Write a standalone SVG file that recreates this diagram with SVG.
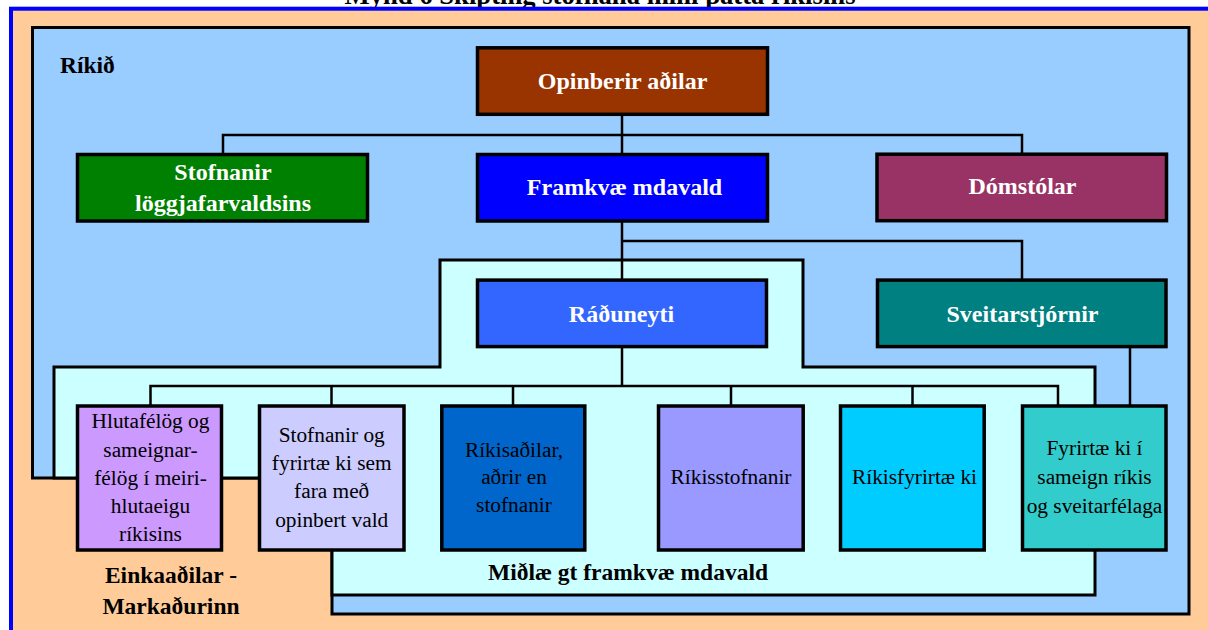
<svg xmlns="http://www.w3.org/2000/svg" width="1208" height="630" viewBox="0 0 1208 630">
  <style>
    .region { stroke: #000; stroke-width: 3; stroke-linejoin: miter; }
    .box { stroke: #000; stroke-width: 3.5; }
    .wire { fill: none; stroke: #000; stroke-width: 2.5; }
    .hd { font-family: "Liberation Serif", "Times New Roman", serif; font-weight: bold; font-size: 24px; text-anchor: middle; fill: #fff; }
    .lbl { font-family: "Liberation Serif", "Times New Roman", serif; font-size: 21.33px; text-anchor: middle; fill: #000; }
    .zone { font-family: "Liberation Serif", "Times New Roman", serif; font-weight: bold; font-size: 23.5px; fill: #000; }
  </style>

  <rect width="1208" height="630" fill="#fff"/>

  <!-- caption, clipped by the top edge -->
  <text x="600" y="3.5" font-family="Liberation Serif, serif" font-weight="bold" font-size="26.67" text-anchor="middle" fill="#000">Mynd 6 Skipting stofnana milli þátta ríkisins</text>

  <!-- outer frame: private sector background -->
  <rect x="11" y="8.7" width="1260" height="700" fill="#FFCC99" stroke="#0000FF" stroke-width="4"/>

  <!-- state area -->
  <g id="rikid">
    <polygon class="region" fill="#99CCFF" points="32.5,27.5 1189,27.5 1189,614 332,614 332,478 32.5,478"/>
    <text class="zone" x="60" y="73" font-size="23">Ríkið</text>
  </g>

  <!-- central executive area -->
  <g id="midlaegt">
    <polygon class="region" fill="#CCFFFF" points="440,260 803,260 803,367 1095,367 1095,595 332,595 332,478 54,478 54,367 440,367"/>
    <text class="zone" x="628" y="579.5" text-anchor="middle" font-size="24">Miðlæ gt framkvæ mdavald</text>
  </g>

  <g id="einkaadilar">
    <text class="zone" x="171" y="583" text-anchor="middle">Einkaaðilar -</text>
    <text class="zone" x="171" y="613.5" text-anchor="middle">Markaðurinn</text>
  </g>

  <!-- connectors -->
  <g id="connectors">
    <path class="wire" d="M223,154 V135 H1022 V154"/>
    <path class="wire" d="M622,116 V154"/>
    <path class="wire" d="M622,222 V280"/>
    <path class="wire" d="M622,241 H1022 V280"/>
    <path class="wire" d="M622,348 V386"/>
    <path class="wire" d="M150.5,405 V386 H1058 V405"/>
    <path class="wire" d="M331.5,386 V405"/>
    <path class="wire" d="M513,386 V405"/>
    <path class="wire" d="M731,386 V405"/>
    <path class="wire" d="M912.5,386 V405"/>
    <path class="wire" d="M1130,348 V405"/>
  </g>

  <!-- top level -->
  <g id="opinberir">
    <rect class="box" x="477.5" y="47.8" width="290" height="66.5" fill="#993300"/>
    <text class="hd" x="622.5" y="89">Opinberir aðilar</text>
  </g>

  <g id="loggjafarvald">
    <rect class="box" x="77.5" y="154.5" width="290" height="66.5" fill="#008000"/>
    <text class="hd" x="223" y="180">Stofnanir</text>
    <text class="hd" x="223" y="210.5">löggjafarvaldsins</text>
  </g>

  <g id="framkvaemdavald">
    <rect class="box" x="477.5" y="154.5" width="290" height="66.5" fill="#0000FF"/>
    <text class="hd" x="624.5" y="195">Framkvæ mdavald</text>
  </g>

  <g id="domstolar">
    <rect class="box" x="877" y="154.2" width="289.5" height="66.5" fill="#993366"/>
    <text class="hd" x="1022.5" y="194.3">Dómstólar</text>
  </g>

  <g id="raduneyti">
    <rect class="box" x="477.5" y="280.1" width="289" height="66.5" fill="#3366FF"/>
    <text class="hd" x="621.5" y="321.7">Ráðuneyti</text>
  </g>

  <g id="sveitarstjornir">
    <rect class="box" x="877.5" y="280.1" width="288.5" height="66.5" fill="#008080"/>
    <text class="hd" x="1022.5" y="321.7">Sveitarstjórnir</text>
  </g>

  <!-- bottom row -->
  <g id="hlutafelog">
    <rect class="box" x="77.5" y="406" width="144" height="144" fill="#CC99FF"/>
    <text class="lbl" x="150.5" y="428.3">Hlutafélög og</text>
    <text class="lbl" x="150.5" y="456.7">sameignar-</text>
    <text class="lbl" x="150.5" y="485">félög í meiri-</text>
    <text class="lbl" x="150.5" y="513.3">hlutaeigu</text>
    <text class="lbl" x="150.5" y="540.5">ríkisins</text>
  </g>

  <g id="opinbert-vald">
    <rect class="box" x="259.5" y="406" width="144.5" height="144" fill="#CCCCFF"/>
    <text class="lbl" x="331.7" y="441.7">Stofnanir og</text>
    <text class="lbl" x="331.7" y="470">fyrirtæ ki sem</text>
    <text class="lbl" x="331.7" y="498.3">fara með</text>
    <text class="lbl" x="331.7" y="526.7">opinbert vald</text>
  </g>

  <g id="rikisadilar">
    <rect class="box" x="441.8" y="406" width="143" height="144" fill="#0066CC"/>
    <text class="lbl" x="514" y="456.5">Ríkisaðilar,</text>
    <text class="lbl" x="514" y="484">aðrir en</text>
    <text class="lbl" x="514" y="511.7">stofnanir</text>
  </g>

  <g id="rikisstofnanir">
    <rect class="box" x="658.5" y="406" width="144.7" height="144" fill="#9999FF"/>
    <text class="lbl" x="731" y="483.5">Ríkisstofnanir</text>
  </g>

  <g id="rikisfyrirtaeki">
    <rect class="box" x="840.5" y="406" width="143.7" height="144" fill="#00CCFF"/>
    <text class="lbl" x="914.5" y="484">Ríkisfyrirtæ ki</text>
  </g>

  <g id="sameign">
    <rect class="box" x="1022.5" y="406" width="143.5" height="144" fill="#33CCCC"/>
    <text class="lbl" x="1094.5" y="455">Fyrirtæ ki í</text>
    <text class="lbl" x="1094.5" y="484">sameign ríkis</text>
    <text class="lbl" x="1094.5" y="512.7">og sveitarfélaga</text>
  </g>
</svg>
